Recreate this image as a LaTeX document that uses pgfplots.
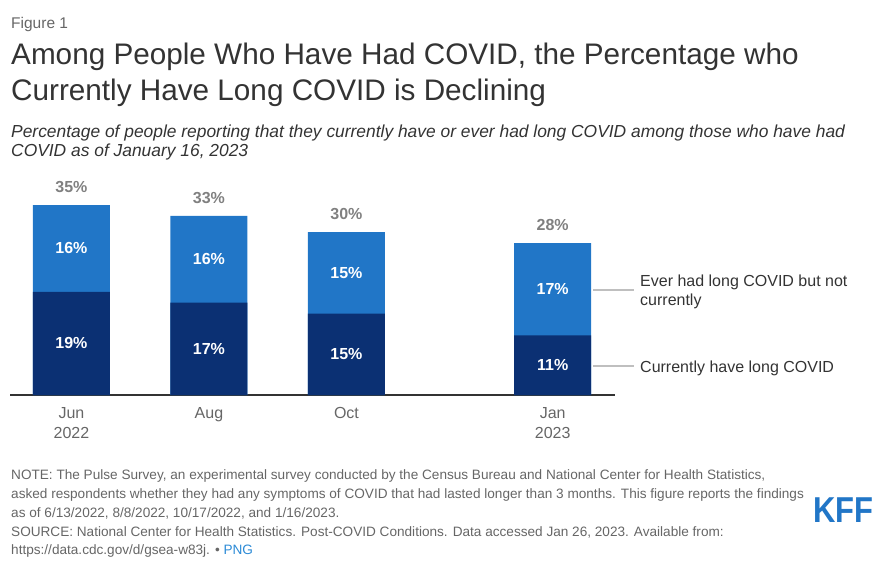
\documentclass[border=0pt]{standalone}
\usepackage{fontspec}
\setmainfont{Liberation Sans}
\usepackage{pgfplots}
\usepackage{pgfplotstable}
\pgfplotsset{compat=1.18}
\definecolor{lightbar}{HTML}{2176C7}
\definecolor{darkbar}{HTML}{0B3073}
\definecolor{titlegray}{HTML}{333333}
\definecolor{notegray}{HTML}{666666}
\definecolor{totgray}{HTML}{808080}
\definecolor{leggray}{HTML}{BFBFBF}
\definecolor{linkblue}{HTML}{2B8AD6}
\pgfplotstableread{
x cur ever tot curmid evermid
0 19 16 35 9.5 27
1 17 16 33 8.5 25
2 15 15 30 7.5 22.5
3.5 11 17 28 5.5 19.5
}\data
\begin{document}
\begin{tikzpicture}[x=1pt,y=1pt]
\useasboundingbox (0,0) rectangle (892,-568);
\node[anchor=base west, inner sep=0, text=notegray, font=\fontsize{15.5}{18}\selectfont] at (11,-28) {Figure 1};
\node[anchor=base west, inner sep=0, text=titlegray, font=\fontsize{29.7}{36}\selectfont] at (11,-64) {Among People Who Have Had COVID, the Percentage who};
\node[anchor=base west, inner sep=0, text=titlegray, font=\fontsize{29.7}{36}\selectfont] at (11,-100) {Currently Have Long COVID is Declining};
\node[anchor=base west, inner sep=0, text=titlegray, font=\itshape\fontsize{17.4}{20}\selectfont] at (11,-137) {Percentage of people reporting that they currently have or ever had long COVID among those who have had};
\node[anchor=base west, inner sep=0, text=titlegray, font=\itshape\fontsize{17.4}{20}\selectfont] at (11,-156) {COVID as of January 16, 2023};
\begin{axis}[
  at={(10pt,-395pt)}, anchor=south west, scale only axis,
  width=605pt, height=190pt,
  xmin=-0.447, xmax=3.953, ymin=0, ymax=35,
  clip=false,
  hide y axis,
  axis x line*=bottom,
  x axis line style={draw=titlegray, line width=1.2pt},
  xtick={0,1,2,3.5},
  xticklabels={Jun\\2022, Aug, Oct, Jan\\2023},
  major tick length=0pt,
  xticklabel style={align=center, text=notegray, font=\fontsize{16}{20}\selectfont, inner sep=0pt, yshift=-12.5pt},
  bar width=0.56,
]
\addplot[ybar, bar shift=0pt, fill=lightbar, draw=none] table[x=x, y=tot] {\data};
\addplot[ybar, bar shift=0pt, fill=darkbar, draw=none] table[x=x, y=cur] {\data};
\addplot[draw=none, mark=none, forget plot, point meta=explicit symbolic,
  nodes near coords={\pgfplotspointmeta\%},
  nodes near coords style={anchor=center, inner sep=0pt, text=white, font=\bfseries\fontsize{16}{18}\selectfont}]
  table[x=x, y=curmid, meta=cur] {\data};
\addplot[draw=none, mark=none, forget plot, point meta=explicit symbolic,
  nodes near coords={\pgfplotspointmeta\%},
  nodes near coords style={anchor=center, inner sep=0pt, text=white, font=\bfseries\fontsize{16}{18}\selectfont}]
  table[x=x, y=evermid, meta=ever] {\data};
\addplot[draw=none, mark=none, forget plot, point meta=explicit symbolic,
  nodes near coords={\pgfplotspointmeta\%},
  nodes near coords style={anchor=south, inner sep=0pt, yshift=12pt, text=totgray, font=\bfseries\fontsize{16}{18}\selectfont}]
  table[x=x, y=tot, meta=tot] {\data};
\end{axis}
\draw[leggray, line width=1.5pt] (593,-290) -- (634,-290);
\draw[leggray, line width=1.5pt] (593,-366) -- (634,-366);
\node[anchor=base west, inner sep=0, text=titlegray, font=\fontsize{16}{19}\selectfont] at (640,-286) {Ever had long COVID but not};
\node[anchor=base west, inner sep=0, text=titlegray, font=\fontsize{16}{19}\selectfont] at (640,-305) {currently};
\node[anchor=base west, inner sep=0, text=titlegray, font=\fontsize{16}{19}\selectfont] at (640,-372) {Currently have long COVID};
\begin{scope}[every node/.style={anchor=base west, inner sep=0, text=notegray, font=\fontsize{13.6}{18}\selectfont}]
\node at (11,-479) {NOTE: The Pulse Survey, an experimental survey conducted by the Census Bureau and National Center for Health Statistics,};
\node at (11,-498) {asked respondents whether they had any symptoms of COVID that had lasted longer than 3 months. This figure reports the findings};
\node at (11,-517) {as of 6/13/2022, 8/8/2022, 10/17/2022, and 1/16/2023.};
\node at (11,-536) {SOURCE: National Center for Health Statistics. Post-COVID Conditions. Data accessed Jan 26, 2023. Available from:};
\node at (11,-554) {https://data.cdc.gov/d/gsea-w83j. \textbullet{} \textcolor{linkblue}{PNG}};
\end{scope}
\node[anchor=base west, inner sep=0, text=lightbar, font=\bfseries\fontsize{36}{36}\selectfont, xscale=0.86] at (813,-522) {KFF};
\end{tikzpicture}
\end{document}
